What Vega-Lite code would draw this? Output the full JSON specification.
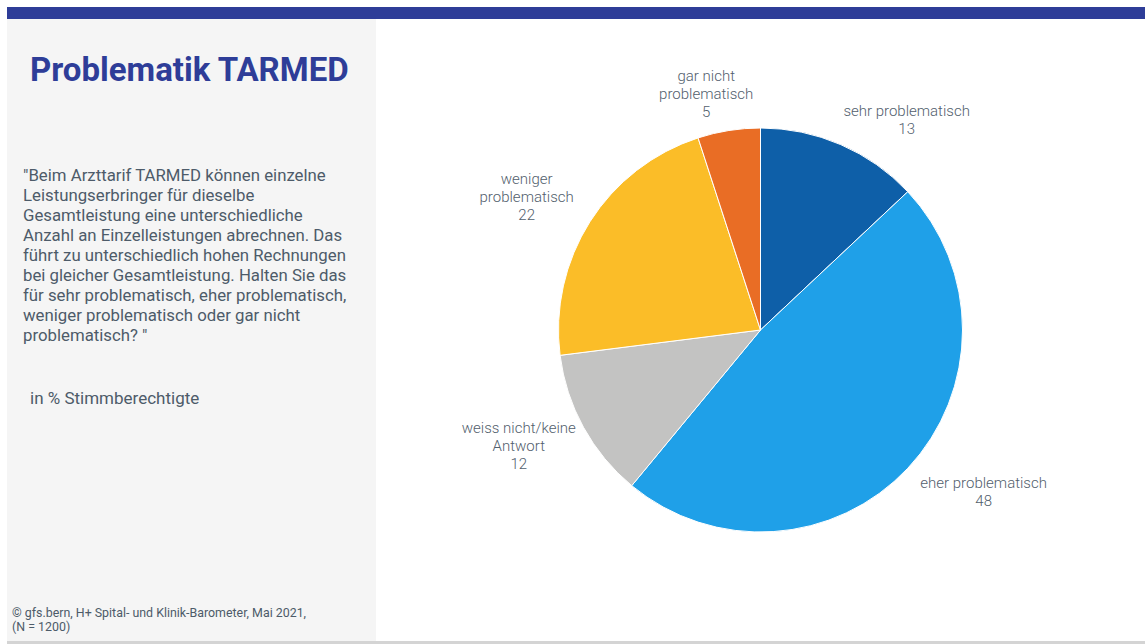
{
  "$schema": "https://vega.github.io/schema/vega-lite/v6.json",
  "background": "white",
  "padding": {"left": 7, "top": 7, "right": 0, "bottom": 0},
  "config": {"view": {"stroke": null}},
  "datasets": {
    "pie": [
      {"kategorie": "sehr problematisch", "wert": 13, "rang": 1},
      {"kategorie": "eher problematisch", "wert": 48, "rang": 2},
      {"kategorie": "weiss nicht/keine\nAntwort", "wert": 12, "rang": 3},
      {"kategorie": "weniger\nproblematisch", "wert": 22, "rang": 4},
      {"kategorie": "gar nicht\nproblematisch", "wert": 5, "rang": 5}
    ]
  },
  "spacing": 0,
  "vconcat": [
    {
      "width": 1138,
      "height": 12,
      "view": {"fill": "#2e3d98", "stroke": null},
      "data": {"values": [{"k": 1}]},
      "mark": {"type": "rect", "color": "#2e3d98"},
      "encoding": {}
    },
    {
      "spacing": 0,
      "hconcat": [
        {
          "width": 369,
          "height": 622,
          "view": {"fill": "#f5f5f5", "stroke": null},
          "layer": [
            {
              "data": {"values": [{"t": "Problematik TARMED"}]},
              "mark": {"type": "text", "x": 23, "y": 62, "align": "left", "baseline": "alphabetic", "font": "Roboto", "fontSize": 33, "fontWeight": "bold", "color": "#2e3d98"},
              "encoding": {"text": {"field": "t", "type": "nominal"}}
            },
            {
              "data": {"values": [{"t": "\"Beim Arzttarif TARMED können einzelne\nLeistungserbringer für dieselbe\nGesamtleistung eine unterschiedliche\nAnzahl an Einzelleistungen abrechnen. Das\nführt zu unterschiedlich hohen Rechnungen\nbei gleicher Gesamtleistung. Halten Sie das\nfür sehr problematisch, eher problematisch,\nweniger problematisch oder gar nicht\nproblematisch? \""}]},
              "mark": {"type": "text", "x": 16, "y": 162, "align": "left", "baseline": "alphabetic", "lineBreak": "\n", "lineHeight": 20, "font": "Roboto", "fontSize": 16.8, "color": "#4d5b69"},
              "encoding": {"text": {"field": "t", "type": "nominal"}}
            },
            {
              "data": {"values": [{"t": "in % Stimmberechtigte"}]},
              "mark": {"type": "text", "x": 23, "y": 385, "align": "left", "baseline": "alphabetic", "font": "Roboto", "fontSize": 17, "color": "#4d5b69"},
              "encoding": {"text": {"field": "t", "type": "nominal"}}
            },
            {
              "data": {"values": [{"t": "© gfs.bern, H+ Spital- und Klinik-Barometer, Mai 2021,\n(N = 1200)"}]},
              "mark": {"type": "text", "x": 5, "y": 598, "align": "left", "baseline": "alphabetic", "lineBreak": "\n", "lineHeight": 13.5, "font": "Roboto", "fontSize": 12.4, "color": "#4d5b69"},
              "encoding": {"text": {"field": "t", "type": "nominal"}}
            }
          ]
        },
        {
          "width": 769,
          "height": 622,
          "data": {"name": "pie"},
          "encoding": {
            "theta": {"field": "wert", "type": "quantitative", "stack": true},
            "order": {"field": "rang", "type": "quantitative"},
            "detail": {"field": "kategorie", "type": "nominal"}
          },
          "layer": [
            {
              "mark": {"type": "arc", "outerRadius": 202, "stroke": "white", "strokeWidth": 1},
              "encoding": {
                "color": {
                  "field": "kategorie",
                  "type": "nominal",
                  "scale": {
                    "domain": ["sehr problematisch", "eher problematisch", "weiss nicht/keine\nAntwort", "weniger\nproblematisch", "gar nicht\nproblematisch"],
                    "range": ["#0e5fa8", "#1fa0e8", "#c3c3c2", "#fbbd28", "#e96d25"]
                  },
                  "legend": null
                }
              }
            },
            {
              "mark": {"type": "text", "radius": 232, "dx": 54, "dy": 12, "align": "center", "baseline": "middle", "font": "Roboto", "fontSize": 15, "fontWeight": 300, "color": "#52606d"},
              "encoding": {"text": {"condition": {"test": "datum.rang <= 2", "field": "wert", "type": "quantitative"}, "value": ""}}
            },
            {
              "mark": {"type": "text", "radius": 232, "dx": 54, "dy": 2, "align": "center", "baseline": "bottom", "lineBreak": "\n", "lineHeight": 18, "font": "Roboto", "fontSize": 15, "fontWeight": 300, "color": "#52606d"},
              "encoding": {"text": {"condition": {"test": "datum.rang <= 2", "field": "kategorie", "type": "nominal"}, "value": ""}}
            },
            {
              "mark": {"type": "text", "radius": 245, "dx": -27, "dy": 16, "align": "center", "baseline": "middle", "font": "Roboto", "fontSize": 15, "fontWeight": 300, "color": "#52606d"},
              "encoding": {"text": {"condition": {"test": "datum.rang == 3 || datum.rang == 4", "field": "wert", "type": "quantitative"}, "value": ""}}
            },
            {
              "mark": {"type": "text", "radius": 245, "dx": -27, "dy": -12, "align": "center", "baseline": "bottom", "lineBreak": "\n", "lineHeight": 18, "font": "Roboto", "fontSize": 15, "fontWeight": 300, "color": "#52606d"},
              "encoding": {"text": {"condition": {"test": "datum.rang == 3 || datum.rang == 4", "field": "kategorie", "type": "nominal"}, "value": ""}}
            },
            {
              "mark": {"type": "text", "radius": 232, "dx": -18, "dy": 11, "align": "center", "baseline": "middle", "font": "Roboto", "fontSize": 15, "fontWeight": 300, "color": "#52606d"},
              "encoding": {"text": {"condition": {"test": "datum.rang == 5", "field": "wert", "type": "quantitative"}, "value": ""}}
            },
            {
              "mark": {"type": "text", "radius": 232, "dx": -18, "dy": -17, "align": "center", "baseline": "bottom", "lineBreak": "\n", "lineHeight": 18, "font": "Roboto", "fontSize": 15, "fontWeight": 300, "color": "#52606d"},
              "encoding": {"text": {"condition": {"test": "datum.rang == 5", "field": "kategorie", "type": "nominal"}, "value": ""}}
            }
          ]
        }
      ]
    },
    {
      "width": 1138,
      "height": 3,
      "view": {"fill": "#d4d4d4", "stroke": null},
      "data": {"values": [{"k": 1}]},
      "mark": {"type": "rect", "color": "#d4d4d4"},
      "encoding": {}
    }
  ]
}
